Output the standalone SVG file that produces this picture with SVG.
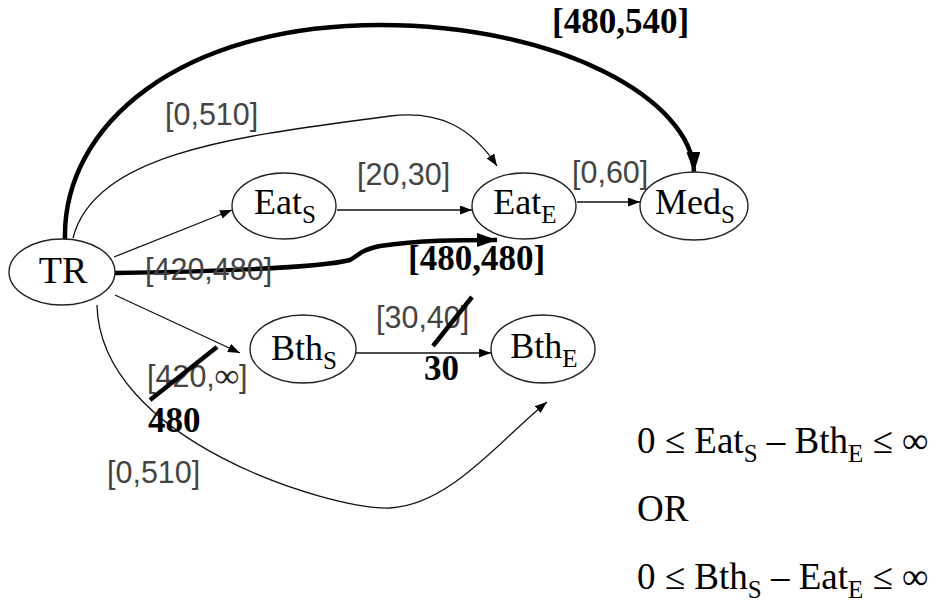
<svg xmlns="http://www.w3.org/2000/svg" width="941" height="603" viewBox="0 0 941 603">
<style>
.node{fill:#fff;stroke:#222;stroke-width:1.4}
.nl{font-family:"Liberation Serif","Times New Roman",serif;font-size:36px;fill:#000}
.sub{font-size:25px}
.e{fill:none;stroke:#111;stroke-width:1.3}
.ek{fill:none;stroke:#000;stroke-width:4.5}
.lt{font-family:"Liberation Sans",Arial,sans-serif;font-size:30.5px;fill:#444}
.inf{font-family:"Liberation Serif","Times New Roman",serif;font-size:34px;font-weight:bold;fill:#222}
.bd{font-family:"Liberation Serif","Times New Roman",serif;font-size:35px;font-weight:bold;fill:#000}
.eq{font-family:"Liberation Serif","Times New Roman",serif;font-size:37px;fill:#000}
.strike{stroke:#000;stroke-width:4.5;stroke-linecap:butt}
</style>
<defs>
<marker id="a" markerUnits="userSpaceOnUse" markerWidth="12" markerHeight="9" refX="12" refY="4.5" orient="auto"><path d="M0,0 L12,4.5 L0,9 z" fill="#000"/></marker>
<marker id="ak" markerUnits="userSpaceOnUse" markerWidth="20" markerHeight="14" refX="20" refY="7" orient="auto"><path d="M0,0 L20,7 L0,14 z" fill="#000"/></marker>
</defs>
<rect width="941" height="603" fill="#fff"/>
<g id="connectors">
<path class="ek" d="M65,240 C 62,125 180,25 380,25 C 560,25 692,100 694,172" marker-end="url(#ak)"/>
<path class="e" d="M73,238 C 95,150 250,135 390,116 C 440,110 472,128 497,166" marker-end="url(#a)"/>
<path class="e" d="M114,257 L232,210" marker-end="url(#a)"/>
<path class="e" d="M337,210 L472,210" marker-end="url(#a)"/>
<path class="e" d="M577,202 L640,202" marker-end="url(#a)"/>
<path class="ek" d="M115,273 C 200,272 320,268 350,260 C 358,256 360,250 380,246 C 420,240 460,240 497,240" marker-end="url(#ak)"/>
<path class="e" d="M115,295 L240,353" marker-end="url(#a)"/>
<path class="e" d="M356,353 L491,353" marker-end="url(#a)"/>
<path class="e" d="M97,305 C 100,440 330,510 390,508 C 450,505 500,440 547,402" marker-end="url(#a)"/>
</g>
<g id="labels">
<text class="bd" x="552" y="33">[480,540]</text>
<text class="lt" x="165" y="125">[0,510]</text>
<text class="lt" x="357" y="185">[20,30]</text>
<text class="lt" x="572" y="183">[0,60]</text>
<text class="lt" x="145" y="280">[420,480]</text>
<text class="bd" x="408" y="270">[480,480]</text>
<text class="lt" x="376" y="328">[30,40]</text>
<line class="strike" x1="433" y1="346" x2="472" y2="297"/>
<text class="bd" x="424" y="380">30</text>
<text class="lt" x="147" y="387">[420,<tspan class="inf">∞</tspan>]</text>
<line class="strike" x1="150" y1="400" x2="217" y2="347"/>
<text class="bd" x="148" y="432">480</text>
<text class="lt" x="107" y="483">[0,510]</text>
</g>
<g id="TR"><ellipse class="node" cx="62" cy="272" rx="53" ry="33"/><text class="nl" x="63" y="283" text-anchor="middle" style="font-size:38px">TR</text></g>
<g id="EatS"><ellipse class="node" cx="284" cy="206" rx="52" ry="33"/><text class="nl" x="285" y="214" text-anchor="middle">Eat<tspan class="sub" dy="9">S</tspan></text></g>
<g id="EatE"><ellipse class="node" cx="524" cy="206" rx="52" ry="33"/><text class="nl" x="525" y="214" text-anchor="middle">Eat<tspan class="sub" dy="9">E</tspan></text></g>
<g id="MedS"><ellipse class="node" cx="694" cy="206" rx="54" ry="34"/><text class="nl" x="695" y="214" text-anchor="middle">Med<tspan class="sub" dy="9">S</tspan></text></g>
<g id="BthS"><ellipse class="node" cx="303" cy="349" rx="53" ry="34"/><text class="nl" x="304" y="360" text-anchor="middle">Bth<tspan class="sub" dy="9">S</tspan></text></g>
<g id="BthE"><ellipse class="node" cx="543" cy="349" rx="52" ry="34"/><text class="nl" x="544" y="358" text-anchor="middle">Bth<tspan class="sub" dy="9">E</tspan></text></g>
<g id="constraints">
<text class="eq" x="637" y="453">0 ≤ Eat<tspan class="sub" dy="9">S</tspan><tspan dy="-9"> – Bth</tspan><tspan class="sub" dy="9">E</tspan><tspan dy="-9"> ≤ ∞</tspan></text>
<text class="eq" x="637" y="521">OR</text>
<text class="eq" x="637" y="589">0 ≤ Bth<tspan class="sub" dy="9">S</tspan><tspan dy="-9"> – Eat</tspan><tspan class="sub" dy="9">E</tspan><tspan dy="-9"> ≤ ∞</tspan></text>
</g>
</svg>
